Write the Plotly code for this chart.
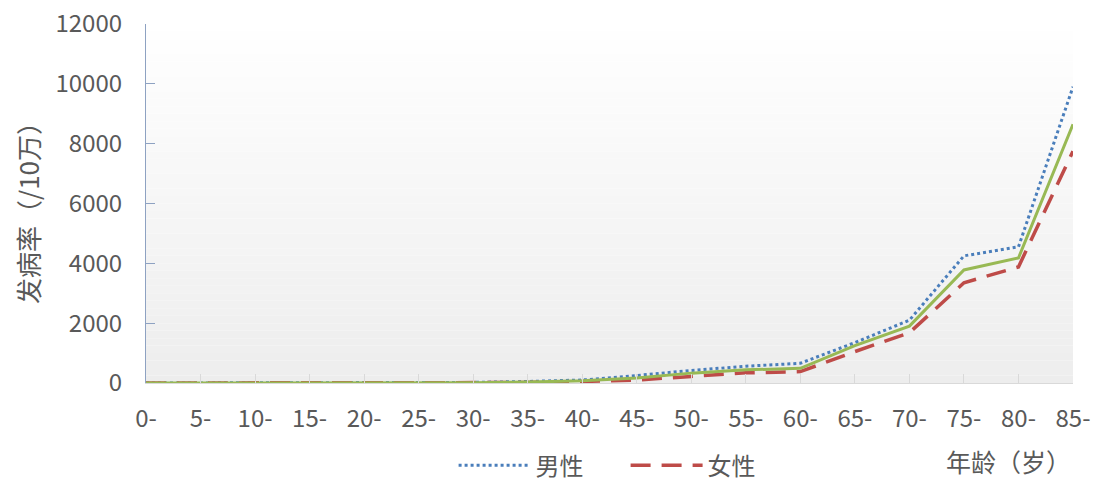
import plotly.graph_objects as go

# Age groups (years) and incidence per 100,000
age_groups = ["0-", "5-", "10-", "15-", "20-", "25-", "30-", "35-", "40-",
              "45-", "50-", "55-", "60-", "65-", "70-", "75-", "80-", "85-"]
male = [0, 0, 0, 0, 0, 5, 20, 50, 100, 250, 420, 560, 660, 1350, 2100, 4250, 4550, 9900]
female = [0, 0, 0, 0, 0, 0, 5, 15, 50, 100, 220, 340, 380, 1050, 1680, 3350, 3880, 7750]
total = [0, 0, 0, 0, 0, 3, 12, 30, 75, 170, 330, 440, 490, 1250, 1900, 3780, 4180, 8650]
y_ticks = [0, 2000, 4000, 6000, 8000, 10000, 12000]

FONT = "Noto Sans CJK SC"
GREY = "#595959"
TICK_SIZE = 24
TEXT_SIZE = 25

# plot-area geometry in pixels (used to place free text in paper units)
W, H = 1093, 483
L, R, T, B = 146, 20, 24, 100
PW, PH = W - L - R, H - T - B


def px_to_paper(px, py):
    return (px - L) / PW, (H - B - py) / PH


fig = go.Figure()
fig.add_trace(go.Scatter(
    x=age_groups, y=male, name="男性", mode="lines",
    line=dict(color="#4a7ebb", width=3, dash="dot"), cliponaxis=False))
fig.add_trace(go.Scatter(
    x=age_groups, y=female, name="女性", mode="lines",
    line=dict(color="#be4b48", width=3.5, dash="20px,11px"), cliponaxis=False))
fig.add_trace(go.Scatter(
    x=age_groups, y=total, name="合计", mode="lines", showlegend=False,
    line=dict(color="#98b954", width=3), cliponaxis=False))

# vertical white-to-grey gradient behind the plot area
n_strips = 48
shapes = []
for i in range(n_strips):
    t = (i + 0.5) / n_strips
    c = round(255 - (255 - 237) * t)
    shapes.append(dict(
        type="rect", xref="paper", yref="paper",
        x0=0, x1=1, y0=1 - (i + 1) / n_strips, y1=1 - i / n_strips,
        fillcolor=f"rgb({c},{c},{c})", line=dict(width=0), layer="below"))

ax_x, ax_y = px_to_paper(1008, 461)
ti_x, ti_y = px_to_paper(27, 207)

fig.update_layout(
    width=W, height=H,
    margin=dict(l=L, r=R, t=T, b=B, autoexpand=False),
    paper_bgcolor="white", plot_bgcolor="rgba(0,0,0,0)",
    font=dict(family=FONT, size=TICK_SIZE, color=GREY),
    shapes=shapes,
    showlegend=True,
    legend=dict(
        orientation="h", xref="container", yref="container",
        x=0.415, y=0.036, xanchor="left", yanchor="middle",
        font=dict(family=FONT, size=24, color=GREY),
        bgcolor="rgba(0,0,0,0)", itemwidth=72,
        entrywidth=85, entrywidthmode="pixels"),
    annotations=[
        dict(text="年龄（岁）", xref="paper", yref="paper",
             x=ax_x, y=ax_y, xanchor="center", yanchor="middle",
             showarrow=False,
             font=dict(family=FONT, size=TEXT_SIZE, color=GREY)),
        dict(text="发病率（/10万）", xref="paper", yref="paper",
             x=ti_x, y=ti_y, textangle=-90,
             xanchor="center", yanchor="middle", showarrow=False,
             font=dict(family=FONT, size=26, color=GREY)),
    ],
)

fig.update_xaxes(
    type="category", range=[0, len(age_groups) - 1], automargin=False,
    showgrid=False, zeroline=False,
    showline=True, linecolor="#d9d9d9", linewidth=1,
    ticks="inside", ticklen=9, tickcolor="#d9d9d9",
    ticklabelstandoff=14,
    tickfont=dict(family=FONT, size=TICK_SIZE, color=GREY))

fig.update_yaxes(
    range=[0, 12000], tickvals=y_ticks, ticktext=[str(v) for v in y_ticks],
    automargin=False, showgrid=False, zeroline=False,
    showline=True, linecolor="#8ea2c2", linewidth=1.2,
    ticks="inside", ticklen=9, tickcolor="#8ea2c2",
    ticklabelstandoff=18,
    tickfont=dict(family=FONT, size=TICK_SIZE, color=GREY))

fig.write_html("out.html")
